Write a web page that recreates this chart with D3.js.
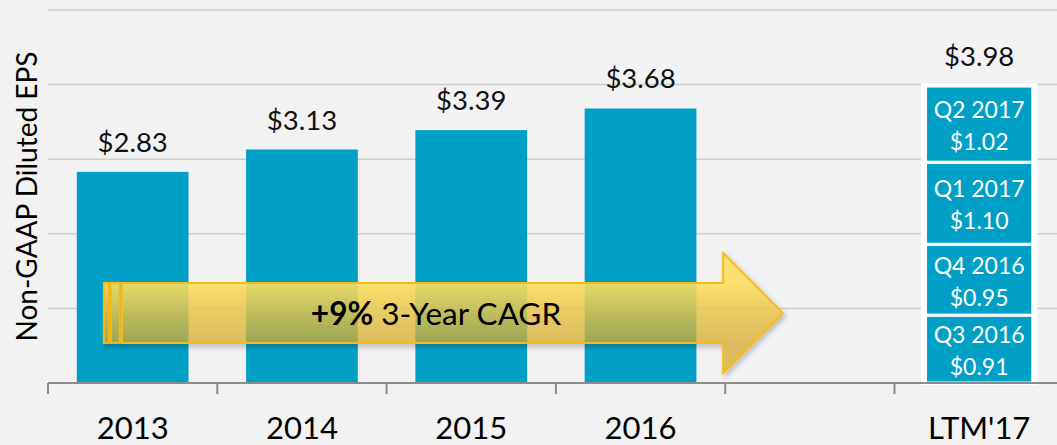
<!DOCTYPE html>
<html>
<head>
<meta charset="utf-8">
<script src="https://cdn.jsdelivr.net/npm/d3@7"></script>
<style>
  html, body { margin: 0; padding: 0; background: #f2f2f2; }
  svg { display: block; font-family: Lato, "Open Sans", sans-serif; }
</style>
</head>
<body>
<div id="canvas"></div>
<script>
// categories on the x axis (one empty slot before LTM)
var categories = ["2013", "2014", "2015", "2016", "", "LTM'17"];
// annual non-GAAP diluted EPS
var years = ["2013", "2014", "2015", "2016"];
var eps = [2.83, 3.13, 3.39, 3.68];
// LTM'17 built from the last four quarters, bottom to top
var quarters = ["Q3 2016", "Q4 2016", "Q1 2017", "Q2 2017"];
var quarterEps = [0.91, 0.95, 1.10, 1.02];
var yTicks = [0, 1, 2, 3, 4, 5];
var cagrLabel = "+9%", cagrText = " 3-Year CAGR";
var cagrLevel = 0.94; // where the arrow sits on the value axis

var W = 1057, H = 445;
var margin = {left: 48, top: 10, bottom: 62};
var blue = "#00a0c6";

var svg = d3.select("#canvas").append("svg").attr("width", W).attr("height", H);

//band scale: one slot per category, bars take the middle 2/3
var x = d3.scaleBand().domain(categories).range([margin.left, margin.left + 6 * 169.3]).padding(0);
var y = d3.scaleLinear().domain([0, 5]).range([H - margin.bottom, margin.top]);
var barW = x.bandwidth() * 0.66;

//gridlines
svg.append("g").selectAll("line").data(yTicks.slice(1)).enter().append("line")
    .attr("x1", margin.left).attr("x2", W)
    .attr("y1", function(d){ return y(d); }).attr("y2", function(d){ return y(d); })
    .attr("stroke", "#cfcfcf").attr("stroke-width", 1.5);

//annual bars
svg.append("g").selectAll("rect").data(eps).enter().append("rect")
    .attr("x", function(d, i){ return x(years[i]) + (x.bandwidth() - barW) / 2; })
    .attr("y", function(d){ return y(d); })
    .attr("width", barW)
    .attr("height", function(d){ return y(0) - y(d); })
    .attr("fill", blue);

svg.append("g").selectAll("text").data(eps).enter().append("text")
    .attr("x", function(d, i){ return x(years[i]) + x.bandwidth() / 2; })
    .attr("y", function(d){ return y(d) - 20; })
    .attr("text-anchor", "middle").attr("font-size", 27.5).attr("fill", "#111")
    .text(function(d){ return "$" + d.toFixed(2); });

//LTM stack
var stack = [], acc = 0;
quarterEps.forEach(function(v, i){ stack.push({q: quarters[i], v: v, y0: acc, y1: acc + v}); acc += v; });
var ltmX = x("LTM'17") + x.bandwidth() / 2;
var segW = barW * 0.96;

svg.append("rect").attr("x", ltmX - segW / 2 - 4.5).attr("width", segW + 9)
    .attr("y", y(acc) - 3).attr("height", y(0) - y(acc) + 5).attr("fill", "#fff");

var seg = svg.append("g").selectAll("g").data(stack).enter().append("g");
seg.append("rect")
    .attr("x", ltmX - segW / 2).attr("width", segW)
    .attr("y", function(d){ return y(d.y1); })
    .attr("height", function(d){ return y(d.y0) - y(d.y1); })
    .attr("fill", blue).attr("stroke", "#fff").attr("stroke-width", 3);
seg.append("text")
    .attr("x", ltmX).attr("y", function(d){ return (y(d.y0) + y(d.y1)) / 2 - 6; })
    .attr("text-anchor", "middle").attr("font-size", 23).attr("fill", "#fff")
    .text(function(d){ return d.q; });
seg.append("text")
    .attr("x", ltmX).attr("y", function(d){ return (y(d.y0) + y(d.y1)) / 2 + 26; })
    .attr("text-anchor", "middle").attr("font-size", 23).attr("fill", "#fff")
    .text(function(d){ return "$" + d.v.toFixed(2); });

svg.append("text").attr("x", ltmX).attr("y", y(acc) - 20)
    .attr("text-anchor", "middle").attr("font-size", 27.5).attr("fill", "#111")
    .text("$" + acc.toFixed(2));

//x axis: labels from d3 axis, ticks at the slot boundaries
var axis = svg.append("g").attr("transform", "translate(0," + y(0) + ")")
    .call(d3.axisBottom(x).tickSize(0).tickPadding(34));
axis.select(".domain").remove();
axis.selectAll("text").attr("font-size", 31).attr("fill", "#000").attr("font-family", "Lato, sans-serif");
axis.append("line").attr("x1", margin.left).attr("x2", W).attr("stroke", "#8c8c8c").attr("stroke-width", 2);
axis.selectAll(".bnd").data(categories).enter().append("line")
    .attr("x1", function(d){ return x(d); }).attr("x2", function(d){ return x(d); })
    .attr("y1", 0).attr("y2", 11).attr("stroke", "#8c8c8c").attr("stroke-width", 2);

//y label
svg.append("text").attr("transform", "translate(37," + y(2.5) + ") rotate(-90)")
    .attr("text-anchor", "middle").attr("font-size", 28).attr("fill", "#000")
    .text("Non-GAAP Diluted EPS");

//CAGR arrow
var defs = svg.append("defs");
var shadow = defs.append("filter").attr("id", "shadow").attr("x", "-5%").attr("y", "-20%").attr("width", "110%").attr("height", "150%");
shadow.append("feDropShadow").attr("dx", 2).attr("dy", 3).attr("stdDeviation", 2.5).attr("flood-color", "#000").attr("flood-opacity", 0.28);

var step = x.step();
var aStart = x("2013") + step * 0.33;
var bodyStart = aStart + 18;
var headBase = x("") - 2;
var tip = x("") + step * 0.34;
var cy = y(cagrLevel), bh = 30, hh = 60;

//yellow fading to a more transparent amber, in user space so all pieces share it
var grad = defs.append("linearGradient").attr("id", "arrowFill").attr("gradientUnits", "userSpaceOnUse")
    .attr("x1", 0).attr("x2", 0).attr("y1", cy - bh).attr("y2", cy + bh);
grad.append("stop").attr("offset", "0%").attr("stop-color", "#fce264").attr("stop-opacity", 0.9);
grad.append("stop").attr("offset", "100%").attr("stop-color", "#ddb02e").attr("stop-opacity", 0.67);

var arrow = svg.append("g").attr("filter", "url(#shadow)");
var stroke = "#fbb917";
arrow.append("rect").attr("x", aStart).attr("y", cy - bh).attr("width", 5).attr("height", bh * 2)
    .attr("fill", "url(#arrowFill)").attr("stroke", stroke).attr("stroke-width", 2);
arrow.append("rect").attr("x", aStart + 7).attr("y", cy - bh).attr("width", 9).attr("height", bh * 2)
    .attr("fill", "url(#arrowFill)").attr("stroke", stroke).attr("stroke-width", 2);
var pts = [[bodyStart, cy - bh], [headBase, cy - bh], [headBase, cy - hh], [tip, cy],
           [headBase, cy + hh], [headBase, cy + bh], [bodyStart, cy + bh]];
arrow.append("path").attr("d", d3.line()(pts) + "Z")
    .attr("fill", "url(#arrowFill)").attr("stroke", stroke).attr("stroke-width", 2).attr("stroke-linejoin", "miter");

var t = svg.append("text").attr("x", 436).attr("y", cy + 12)
    .attr("text-anchor", "middle").attr("font-size", 31.5).attr("fill", "#000");
t.append("tspan").attr("font-weight", "bold").text(cagrLabel);
t.append("tspan").text(cagrText);
</script>
</body>
</html>
